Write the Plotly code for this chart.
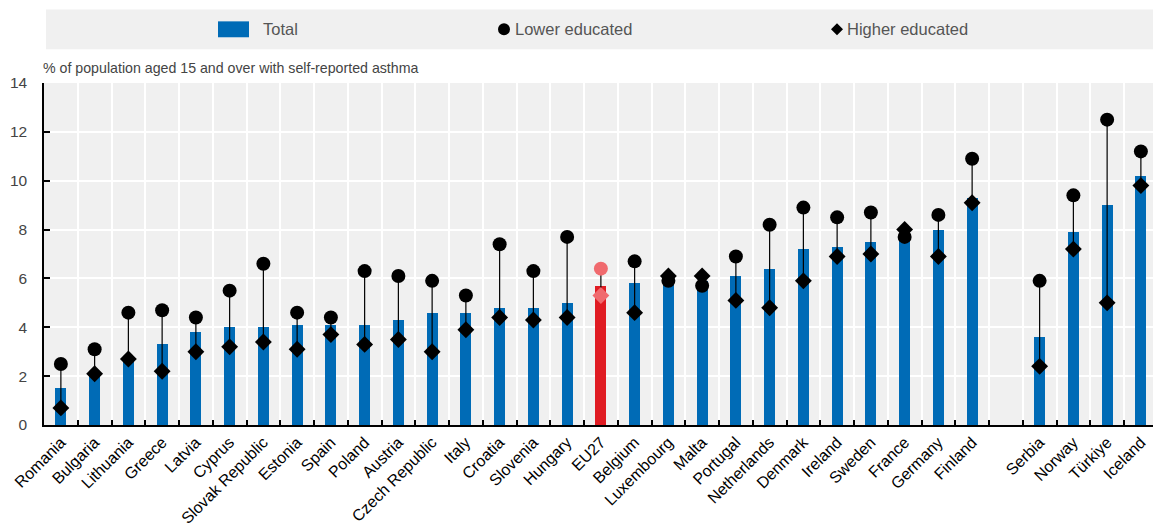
import plotly.graph_objects as go

# ---------------- data ----------------
eu_countries = ["Romania", "Bulgaria", "Lithuania", "Greece", "Latvia", "Cyprus",
                "Slovak Republic", "Estonia", "Spain", "Poland", "Austria",
                "Czech Republic", "Italy", "Croatia", "Slovenia", "Hungary", "EU27",
                "Belgium", "Luxembourg", "Malta", "Portugal", "Netherlands", "Denmark",
                "Ireland", "Sweden", "France", "Germany", "Finland"]
other_countries = ["Serbia", "Norway", "Türkiye", "Iceland"]

total_eu = [1.5, 2.0, 2.6, 3.3, 3.8, 4.0, 4.0, 4.1, 4.1, 4.1, 4.3, 4.6, 4.6, 4.8,
            4.8, 5.0, 5.7, 5.8, 5.9, 5.9, 6.1, 6.4, 7.2, 7.3, 7.5, 7.7, 8.0, 9.3]
lower_eu = [2.5, 3.1, 4.6, 4.7, 4.4, 5.5, 6.6, 4.6, 4.4, 6.3, 6.1, 5.9, 5.3, 7.4,
            6.3, 7.7, 6.4, 6.7, 5.9, 5.7, 6.9, 8.2, 8.9, 8.5, 8.7, 7.7, 8.6, 10.9]
higher_eu = [0.7, 2.1, 2.7, 2.2, 3.0, 3.2, 3.4, 3.1, 3.7, 3.3, 3.5, 3.0, 3.9, 4.4,
             4.3, 4.4, 5.3, 4.6, 6.1, 6.1, 5.1, 4.8, 5.9, 6.9, 7.0, 8.0, 6.9, 9.1]

total_other = [3.6, 7.9, 9.0, 10.2]
lower_other = [5.9, 9.4, 12.5, 11.2]
higher_other = [2.4, 7.2, 5.0, 9.8]

highlight = "EU27"
gap_label = " "

# ---------------- styling ----------------
BLUE = "#006BB6"
RED = "#E01B22"
PINK = "#F06A6E"
BLACK = "#000000"
BG = "#F0F0F0"
NARROW = "Liberation Sans Narrow, Arial Narrow, Liberation Sans, Arial, sans-serif"
REG = "Liberation Sans, Arial, sans-serif"

W, H = 1153, 527
ML, MR, MT, MB = 44, 0, 83, 100
PW, PH = W - ML - MR, H - MT - MB


def px2x(px):
    return (px - ML) / PW


def py2y(py):
    return (H - MB - py) / PH


countries = eu_countries + other_countries
total = total_eu + total_other
lower = lower_eu + lower_other
higher = higher_eu + higher_other
cat_order = eu_countries + [gap_label] + other_countries

bar_colors = [RED if c == highlight else BLUE for c in countries]
mk_colors = [PINK if c == highlight else BLACK for c in countries]

line_x, line_y = [], []
for c, lo, hi in zip(countries, lower, higher):
    line_x += [c, c, None]
    line_y += [lo, hi, None]

fig = go.Figure()
fig.add_trace(go.Bar(x=countries, y=total, marker=dict(color=bar_colors, line=dict(width=0)),
                     width=0.32, name="Total", showlegend=False))
fig.add_trace(go.Scatter(x=line_x, y=line_y, mode="lines",
                         line=dict(color=BLACK, width=1.2), showlegend=False, hoverinfo="skip"))
fig.add_trace(go.Scatter(x=countries, y=lower, mode="markers", name="Lower educated",
                         marker=dict(symbol="circle", size=14, color=mk_colors, line=dict(width=0)),
                         showlegend=False))
fig.add_trace(go.Scatter(x=countries, y=higher, mode="markers", name="Higher educated",
                         marker=dict(symbol="diamond", size=13, color=mk_colors, line=dict(width=0)),
                         showlegend=False))

# ---------------- manual legend ----------------
shapes = [
    dict(type="rect", xref="paper", yref="paper", x0=px2x(46), x1=px2x(1153),
         y0=py2y(49), y1=py2y(9), fillcolor=BG, line=dict(width=0), layer="below"),
    dict(type="rect", xref="paper", yref="paper", x0=px2x(218), x1=px2x(249),
         y0=py2y(37), y1=py2y(21), fillcolor=BLUE, line=dict(width=0)),
    dict(type="circle", xref="paper", yref="paper", x0=px2x(498), x1=px2x(510),
         y0=py2y(35), y1=py2y(23), fillcolor=BLACK, line=dict(width=0)),
    dict(type="path", xref="paper", yref="paper",
         path="M {a},{b} L {c},{d} L {e},{b} L {c},{f} Z".format(
             a=px2x(831), b=py2y(29), c=px2x(837), d=py2y(23), e=px2x(843), f=py2y(35)),
         fillcolor=BLACK, line=dict(width=0)),
]
legend_font = dict(family=NARROW, size=16.5, color="#555555")
annotations = [
    dict(text="Total", xref="paper", yref="paper", x=px2x(261), y=py2y(29),
         xanchor="left", yanchor="middle", showarrow=False, font=legend_font),
    dict(text="Lower educated", xref="paper", yref="paper", x=px2x(513), y=py2y(29),
         xanchor="left", yanchor="middle", showarrow=False, font=legend_font),
    dict(text="Higher educated", xref="paper", yref="paper", x=px2x(845), y=py2y(29),
         xanchor="left", yanchor="middle", showarrow=False, font=legend_font),
    dict(text="% of population aged 15 and over with self-reported asthma",
         xref="paper", yref="paper", x=px2x(41), y=py2y(68),
         xanchor="left", yanchor="middle", showarrow=False,
         font=dict(family=NARROW, size=14.2, color="#444444")),
]

fig.update_layout(
    width=W, height=H, autosize=False,
    margin=dict(l=ML, r=MR, t=MT, b=MB, pad=0),
    paper_bgcolor="white", plot_bgcolor=BG,
    bargap=0, showlegend=False,
    shapes=shapes, annotations=annotations,
    xaxis=dict(type="category", categoryorder="array", categoryarray=cat_order,
               range=[-0.5, -0.5 + PW / 33.75],
               tickson="boundaries", ticks="inside", ticklen=5, tickwidth=1.5, tickcolor=BLACK,
               showline=True, linecolor=BLACK, linewidth=1.5,
               showgrid=True, gridcolor="white", gridwidth=1.5,
               tickangle=-45, tickfont=dict(family=REG, size=16, color=BLACK)),
    yaxis=dict(range=[0, 14], dtick=2, ticks="inside", ticklen=6, tickwidth=1.5, tickcolor=BLACK,
               showline=True, linecolor=BLACK, linewidth=1.5,
               showgrid=True, gridcolor="white", gridwidth=1.5, zeroline=False,
               ticklabelstandoff=12,
               tickfont=dict(family=NARROW, size=15.5, color="#444444")),
)

fig.write_html(
    "out.html",
    config={"displayModeBar": False},
    post_script="document.body.style.margin='0';document.body.style.overflow='hidden';",
)
